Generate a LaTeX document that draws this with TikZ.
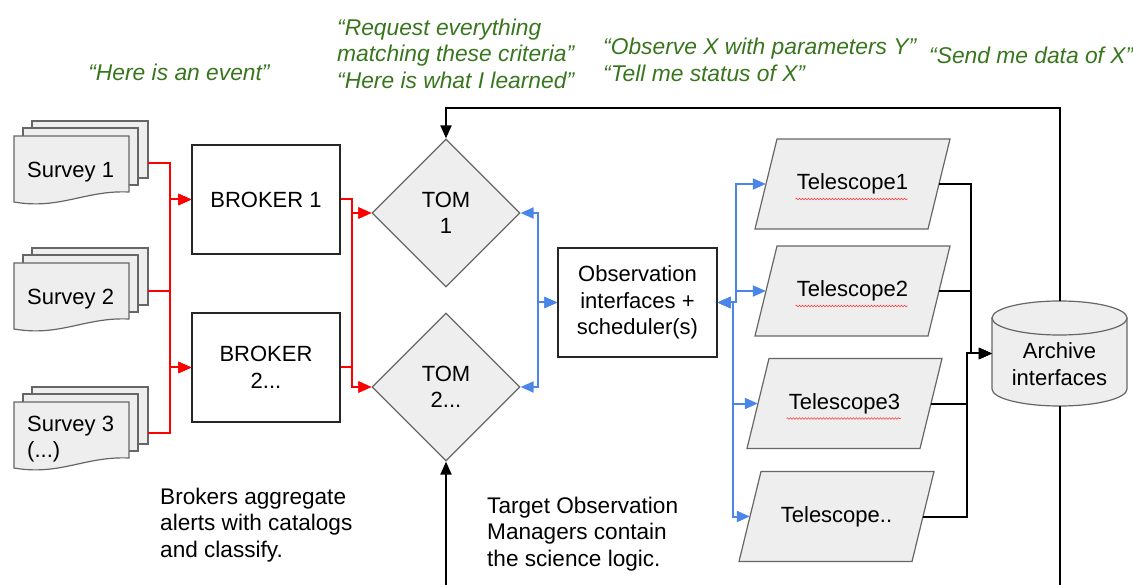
\documentclass[tikz,border=0pt]{standalone}
\usepackage{fontspec}
\setmainfont{Liberation Sans}
\usetikzlibrary{shapes.geometric,arrows.meta,calc,decorations.pathmorphing}
\definecolor{gfill}{HTML}{EEEEEE}
\definecolor{gline}{HTML}{666666}
\definecolor{gred}{HTML}{FF0000}
\definecolor{gblue}{HTML}{4A86E8}
\definecolor{ggreen}{HTML}{38761D}
\newcommand\mydocstack[1]{%
  \draw[docpage] (32,#1-15) rectangle (148,#1+42);
  \draw[docpage] (23,#1-8) rectangle (138,#1+49);
  \draw[docpage] (14,#1) -- (129,#1) -- (129,#1+56) .. controls (85,#1+54) and (60,#1+74) .. (14,#1+66) -- cycle;}
\newcommand\mytelpara[2]{%
  \draw[docpage] (#1-75.5,#2-45) -- (#1+97.5,#2-45) -- (#1+75.5,#2+45) -- (#1-97.5,#2+45) -- cycle;}
\begin{document}
\begin{tikzpicture}[x=1pt,y=-1pt,
  font=\fontsize{22}{26.5}\selectfont,
  docpage/.style={draw=gline, fill=gfill, line width=1.2pt},
  box/.style={draw=black!85, line width=1.3pt, inner sep=0pt, align=center},
  tom/.style={diamond, draw=gline, fill=gfill, line width=1.2pt, minimum width=148pt, minimum height=148pt, inner sep=0pt, align=center},
  telt/.style={minimum width=173pt, minimum height=90pt, inner sep=0pt},
  redc/.style={draw=gred, line width=2pt, -{Triangle[length=13pt,width=11pt]}},
  bluec/.style={draw=gblue, line width=2pt, {Triangle[length=13pt,width=11pt]}-{Triangle[length=13pt,width=11pt]}},
  blk/.style={draw=black, line width=2pt, -{Triangle[length=13pt,width=11pt]}},
  gtext/.style={text=ggreen, font=\fontsize{22.8}{26.5}\selectfont\itshape, align=left, inner sep=0pt},
  plain/.style={align=left, inner sep=0pt},
  note/.style={align=left, inner sep=0pt, font=\fontsize{22.6}{26.8}\selectfont},
  squig/.style={draw=red!75, line width=0.6pt, decorate, decoration={snake, amplitude=0.8pt, segment length=3pt}}
]
\useasboundingbox (0,0) rectangle (1133,585);
\clip (0,0) rectangle (1133,585);

% surveys
\mydocstack{136}
\mydocstack{263}
\mydocstack{402}
\node[plain, anchor=west] (st1) at (27,172) {Survey 1};
\node[plain, anchor=west] (st2) at (27,299) {Survey 2};
\node[plain, anchor=west] (st3) at (27,439) {Survey 3\\(...)};
\coordinate (s1) at (148,163);
\coordinate (s2) at (148,291);
\coordinate (s3) at (148,433);

% brokers
\node[box, minimum width=148pt, minimum height=109pt] (b1) at (266,199.5) {BROKER 1};
\node[box, minimum width=148pt, minimum height=109pt] (b2) at (266,367.5) {BROKER\\2...};

% TOMs
\node[tom] (t1) at (446,213) {TOM\\1};
\node[tom] (t2) at (446,387) {TOM\\2...};

% observation box
\node[box, minimum width=159pt, minimum height=109pt] (o) at (637.5,302.5) {Observation\\interfaces +\\scheduler(s)};

% telescopes
\mytelpara{852.5}{184}
\mytelpara{852.5}{291}
\mytelpara{844.5}{403.5}
\mytelpara{836.5}{516.5}
\node[telt] (tel1) at (852.5,184) {Telescope1};
\node[telt] (tel2) at (852.5,291) {Telescope2};
\node[telt] (tel3) at (844.5,403.5) {Telescope3};
\node[telt] (tel4) at (836.5,516.5) {Telescope..};
\draw[squig] ($(tel1.center)+(-57,15)$) -- ++(112,0);
\draw[squig] ($(tel2.center)+(-57,15)$) -- ++(112,0);
\draw[squig] ($(tel3.center)+(-58,15)$) -- ++(114,0);

% archive cylinder
\draw[gline, fill=gfill, line width=1.2pt] (992,318) -- (992,389) arc[start angle=180, end angle=0, x radius=67.5, y radius=17] -- (1127,318) -- cycle;
\draw[gline, fill=gfill, line width=1.2pt] (1059.5,318) ellipse[x radius=67.5, y radius=17];
\node[minimum width=135pt, minimum height=105pt, inner sep=0pt] (ar) at (1059.5,353.5) {};
\node[align=center, inner sep=0pt] (arl) at (1059.5,364) {Archive\\interfaces};

% red connectors
\foreach \s in {s1,s2,s3}{\foreach \b in {b1,b2}{\draw[redc] (\s) -- ++(22,0) |- (\b.west);}}
\foreach \b in {b1,b2}{\foreach \t in {t1,t2}{\draw[redc] (\b.east) -- ++(11,0) |- (\t.west);}}

% blue connectors
\foreach \t in {t1,t2}{\draw[bluec] (o.west) -- ++(-19,0) |- (\t.east);}
\draw[bluec] (o.east) -- ++(18,0) |- (tel1.west);
\draw[bluec] (o.east) -- ++(18,0) |- (tel2.west);
\draw[bluec] (o.east) -- ++(15,0) |- (tel3.west);
\draw[bluec] (o.east) -- ++(15,0) |- (tel4.west);

% black connectors
\draw[blk] (tel1.east) -| ($(ar.west)+(-21,0)$) -- (ar.west);
\draw[blk] (tel2.east) -| ($(ar.west)+(-21,0)$) -- (ar.west);
\draw[blk] (tel3.east) -| ($(ar.west)+(-25,0)$) -- (ar.west);
\draw[blk] (tel4.east) -| ($(ar.west)+(-25,0)$) -- (ar.west);
\coordinate (topy) at (0,108);
\coordinate (boty) at (0,620);
\draw[blk] (ar.north) -- (ar.north |- topy) -| (t1.north);
\draw[blk] (ar.south) -- (ar.south |- boty) -| (t2.south);

% green quotes
\node[gtext, anchor=center] (g1) at (179,72) {“Here is an event”};
\node[gtext, anchor=west] (g2) at (337,53.5) {“Request everything\\matching these criteria”\\“Here is what I learned”};
\node[gtext, anchor=west] (g3) at (603,60) {“Observe X with parameters Y”\\“Tell me status of X”};
\node[gtext, anchor=west] (g4) at (929,55) {“Send me data of X”};

% notes
\node[note, anchor=west] (n1) at (160,525) {Brokers aggregate\\alerts with catalogs\\and classify.};
\node[note, anchor=west] (n2) at (487,534) {Target Observation\\Managers contain\\the science logic.};
\end{tikzpicture}
\end{document}
